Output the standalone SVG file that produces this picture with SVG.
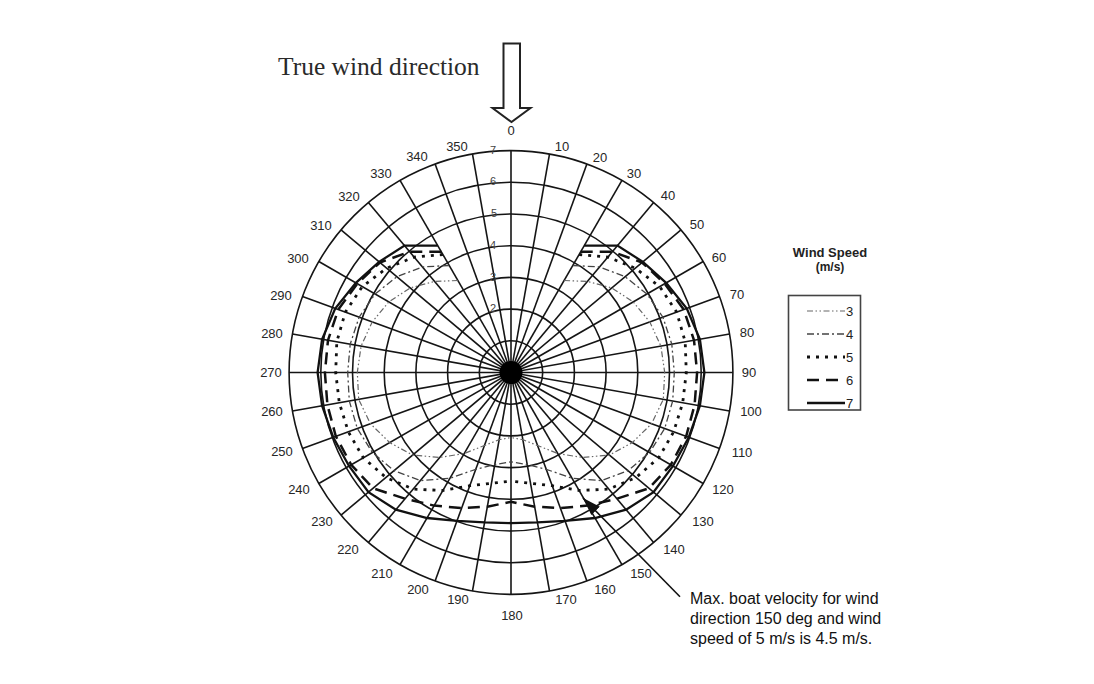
<svg xmlns="http://www.w3.org/2000/svg" width="1094" height="684" viewBox="0 0 1094 684">
<style>
.grid{fill:none;stroke:#151515;stroke-width:1.6}
.lab{font-family:"Liberation Sans",Arial,sans-serif;font-size:13px;fill:#262626;text-anchor:middle}
.rlab{font-family:"Liberation Sans",Arial,sans-serif;font-size:11px;fill:#444;text-anchor:middle}
.c7{fill:none;stroke:#111;stroke-width:2.3}
.c6{fill:none;stroke:#111;stroke-width:2.5;stroke-dasharray:12 7}
.c5{fill:none;stroke:#111;stroke-width:2.8;stroke-dasharray:3 6}
.c4{fill:none;stroke:#444;stroke-width:1.3;stroke-dasharray:7 3 2 3}
.c3{fill:none;stroke:#666;stroke-width:1.2;stroke-dasharray:6 2.5 1.5 2.5 1.5 2.5}
.ann{font-family:"Liberation Sans",Arial,sans-serif;font-size:16px;fill:#111}
</style>
<defs>
<marker id="head" viewBox="0 0 18 12" refX="18" refY="6" markerWidth="18" markerHeight="12" markerUnits="userSpaceOnUse" orient="auto">
<path d="M0,0 L18,6 L0,12 z" fill="#111"/>
</marker>
</defs>
<rect width="1094" height="684" fill="#fff"/>

<g id="title">
<text x="278" y="75" font-family="'Liberation Serif','Times New Roman',serif" font-size="25.5" fill="#2a2a2a">True wind direction</text>
<path d="M503.5,43.5 L520,43.5 L520,108 L530.5,108 L511.5,122 L492.5,108 L503.5,108 Z" fill="#fff" stroke="#222" stroke-width="2"/>
</g>

<g id="grid" class="grid">
<circle cx="511" cy="372.5" r="31.7"/>
<circle cx="511" cy="372.5" r="63.4"/>
<circle cx="511" cy="372.5" r="95.1"/>
<circle cx="511" cy="372.5" r="126.8"/>
<circle cx="511" cy="372.5" r="158.5"/>
<circle cx="511" cy="372.5" r="190.2"/>
<circle cx="511" cy="372.5" r="221.9"/>
<g transform="translate(511,372.5)">
<line x1="0" y1="-221.9" x2="0" y2="221.9"/>
<line x1="0" y1="-221.9" x2="0" y2="221.9" transform="rotate(10)"/>
<line x1="0" y1="-221.9" x2="0" y2="221.9" transform="rotate(20)"/>
<line x1="0" y1="-221.9" x2="0" y2="221.9" transform="rotate(30)"/>
<line x1="0" y1="-221.9" x2="0" y2="221.9" transform="rotate(40)"/>
<line x1="0" y1="-221.9" x2="0" y2="221.9" transform="rotate(50)"/>
<line x1="0" y1="-221.9" x2="0" y2="221.9" transform="rotate(60)"/>
<line x1="0" y1="-221.9" x2="0" y2="221.9" transform="rotate(70)"/>
<line x1="0" y1="-221.9" x2="0" y2="221.9" transform="rotate(80)"/>
<line x1="0" y1="-221.9" x2="0" y2="221.9" transform="rotate(90)"/>
<line x1="0" y1="-221.9" x2="0" y2="221.9" transform="rotate(100)"/>
<line x1="0" y1="-221.9" x2="0" y2="221.9" transform="rotate(110)"/>
<line x1="0" y1="-221.9" x2="0" y2="221.9" transform="rotate(120)"/>
<line x1="0" y1="-221.9" x2="0" y2="221.9" transform="rotate(130)"/>
<line x1="0" y1="-221.9" x2="0" y2="221.9" transform="rotate(140)"/>
<line x1="0" y1="-221.9" x2="0" y2="221.9" transform="rotate(150)"/>
<line x1="0" y1="-221.9" x2="0" y2="221.9" transform="rotate(160)"/>
<line x1="0" y1="-221.9" x2="0" y2="221.9" transform="rotate(170)"/>
<circle cx="0" cy="0" r="11.5" fill="#000" stroke="none"/>
</g>
</g>

<g id="ring-labels" class="rlab">
<text x="493" y="154">7</text>
<text x="493" y="185">6</text>
<text x="494" y="217">5</text>
<text x="493" y="249">4</text>
<text x="493" y="281">3</text>
<text x="493" y="312">2</text>
</g>

<g id="angle-labels" class="lab">
<text x="511" y="134.5">0</text>
<text x="562" y="150.5">10</text>
<text x="600" y="161.5">20</text>
<text x="634" y="177.5">30</text>
<text x="668" y="199.5">40</text>
<text x="697" y="228.5">50</text>
<text x="719" y="262">60</text>
<text x="737" y="298.5">70</text>
<text x="747" y="337">80</text>
<text x="749" y="376.5">90</text>
<text x="751" y="415.5">100</text>
<text x="742" y="456.5">110</text>
<text x="723" y="494">120</text>
<text x="703" y="525.5">130</text>
<text x="674" y="553.5">140</text>
<text x="641" y="577.5">150</text>
<text x="605" y="593.5">160</text>
<text x="566" y="603.5">170</text>
<text x="512" y="619.5">180</text>
<text x="458" y="603.5">190</text>
<text x="418" y="593.5">200</text>
<text x="382" y="577.5">210</text>
<text x="348" y="553.5">220</text>
<text x="322" y="525.5">230</text>
<text x="299" y="493.5">240</text>
<text x="282" y="455.5">250</text>
<text x="272" y="415.5">260</text>
<text x="271" y="376.5">270</text>
<text x="272" y="337.5">280</text>
<text x="281" y="299.5">290</text>
<text x="298" y="262.5">300</text>
<text x="321" y="229.5">310</text>
<text x="349" y="200.5">320</text>
<text x="381" y="177.5">330</text>
<text x="417" y="160.5">340</text>
<text x="457" y="150.5">350</text>
</g>

<g id="curves">
<path id="c3r" class="c3" d="M564.1,280.5 L587.4,281.4 L611.8,287.9 L633.2,301.9 L649.8,322.0 L660.9,346.1 L664.7,372.5 L663.3,399.4 L651.6,423.7 L632.3,442.6 L609.4,455.0 L582.3,457.5 L557.8,453.5 L537.6,445.5 L522.8,439.7 L511,437.5"/>
<use href="#c3r" transform="matrix(-1 0 0 1 1022 0)"/>
<path id="c4r" class="c4" d="M572.8,265.5 L599.6,266.9 L625.1,276.7 L646.9,294.0 L662.9,317.2 L671.8,344.2 L674.3,372.5 L672.7,401.0 L664.7,428.5 L649.6,452.5 L628.0,470.7 L601.7,480.6 L572.0,478.2 L546.2,469.3 L527.2,464.6 L511,461.9"/>
<use href="#c4r" transform="matrix(-1 0 0 1 1022 0)"/>
<path id="c5r" class="c5" d="M579.2,254.5 L607.8,257.1 L635.3,268.2 L659.8,286.6 L676.7,312.2 L685.2,341.8 L686.3,372.5 L682.7,402.8 L673.7,431.7 L658.7,457.8 L636.1,477.5 L608.8,489.1 L579.2,490.5 L552.2,485.7 L530.5,483.3 L511,481.2"/>
<use href="#c5r" transform="matrix(-1 0 0 1 1022 0)"/>
<path id="c6r" class="c6" d="M580.7,251.7 L612.4,251.7 L642.1,262.5 L664.7,283.7 L683.8,309.6 L694.0,340.2 L697.1,372.5 L694.6,404.9 L686.2,436.2 L670.8,464.8 L648.9,488.3 L616.9,498.7 L587.9,505.6 L560.3,508.0 L534.7,506.7 L511,501.8"/>
<use href="#c6r" transform="matrix(-1 0 0 1 1022 0)"/>
<path id="c7r" class="c7" d="M584.2,245.6 L617.5,245.6 L642.9,261.9 L666.1,282.9 L686.8,308.5 L699.9,339.2 L704.4,372.5 L699.9,405.8 L688.8,437.2 L673.0,466.0 L653.5,492.1 L626.1,509.7 L595.0,518.0 L565.0,520.9 L537.4,522.4 L511,523.1"/>
<use href="#c7r" transform="matrix(-1 0 0 1 1022 0)"/>
</g>

<g id="legend">
<text x="830" y="257" font-family="'Liberation Sans',Arial,sans-serif" font-size="13" font-weight="bold" fill="#222" text-anchor="middle">Wind Speed</text>
<text x="830" y="271" font-family="'Liberation Sans',Arial,sans-serif" font-size="12" font-weight="bold" fill="#222" text-anchor="middle">(m/s)</text>
<rect x="788.5" y="295.5" width="72" height="114.5" fill="#fff" stroke="#444" stroke-width="1.6"/>
<line class="c3" x1="807" y1="311" x2="845" y2="311"/>
<line class="c4" x1="807" y1="334" x2="845" y2="334"/>
<line class="c5" x1="807" y1="357" x2="845" y2="357"/>
<line class="c6" x1="807" y1="380" x2="845" y2="380"/>
<line class="c7" x1="807" y1="403" x2="845" y2="403"/>
<g font-family="'Liberation Sans',Arial,sans-serif" font-size="13" fill="#222">
<text x="846" y="315.5">3</text>
<text x="846" y="338.5">4</text>
<text x="846" y="361.5">5</text>
<text x="846" y="384.5">6</text>
<text x="846" y="407.5">7</text>
</g>
</g>

<g id="annotation">
<line x1="680" y1="596.7" x2="583" y2="498" stroke="#111" stroke-width="1.6" marker-end="url(#head)"/>
<text class="ann" x="690" y="604">Max. boat velocity for wind</text>
<text class="ann" x="690" y="624">direction 150 deg and wind</text>
<text class="ann" x="690" y="644">speed of 5 m/s is 4.5 m/s.</text>
</g>
</svg>
